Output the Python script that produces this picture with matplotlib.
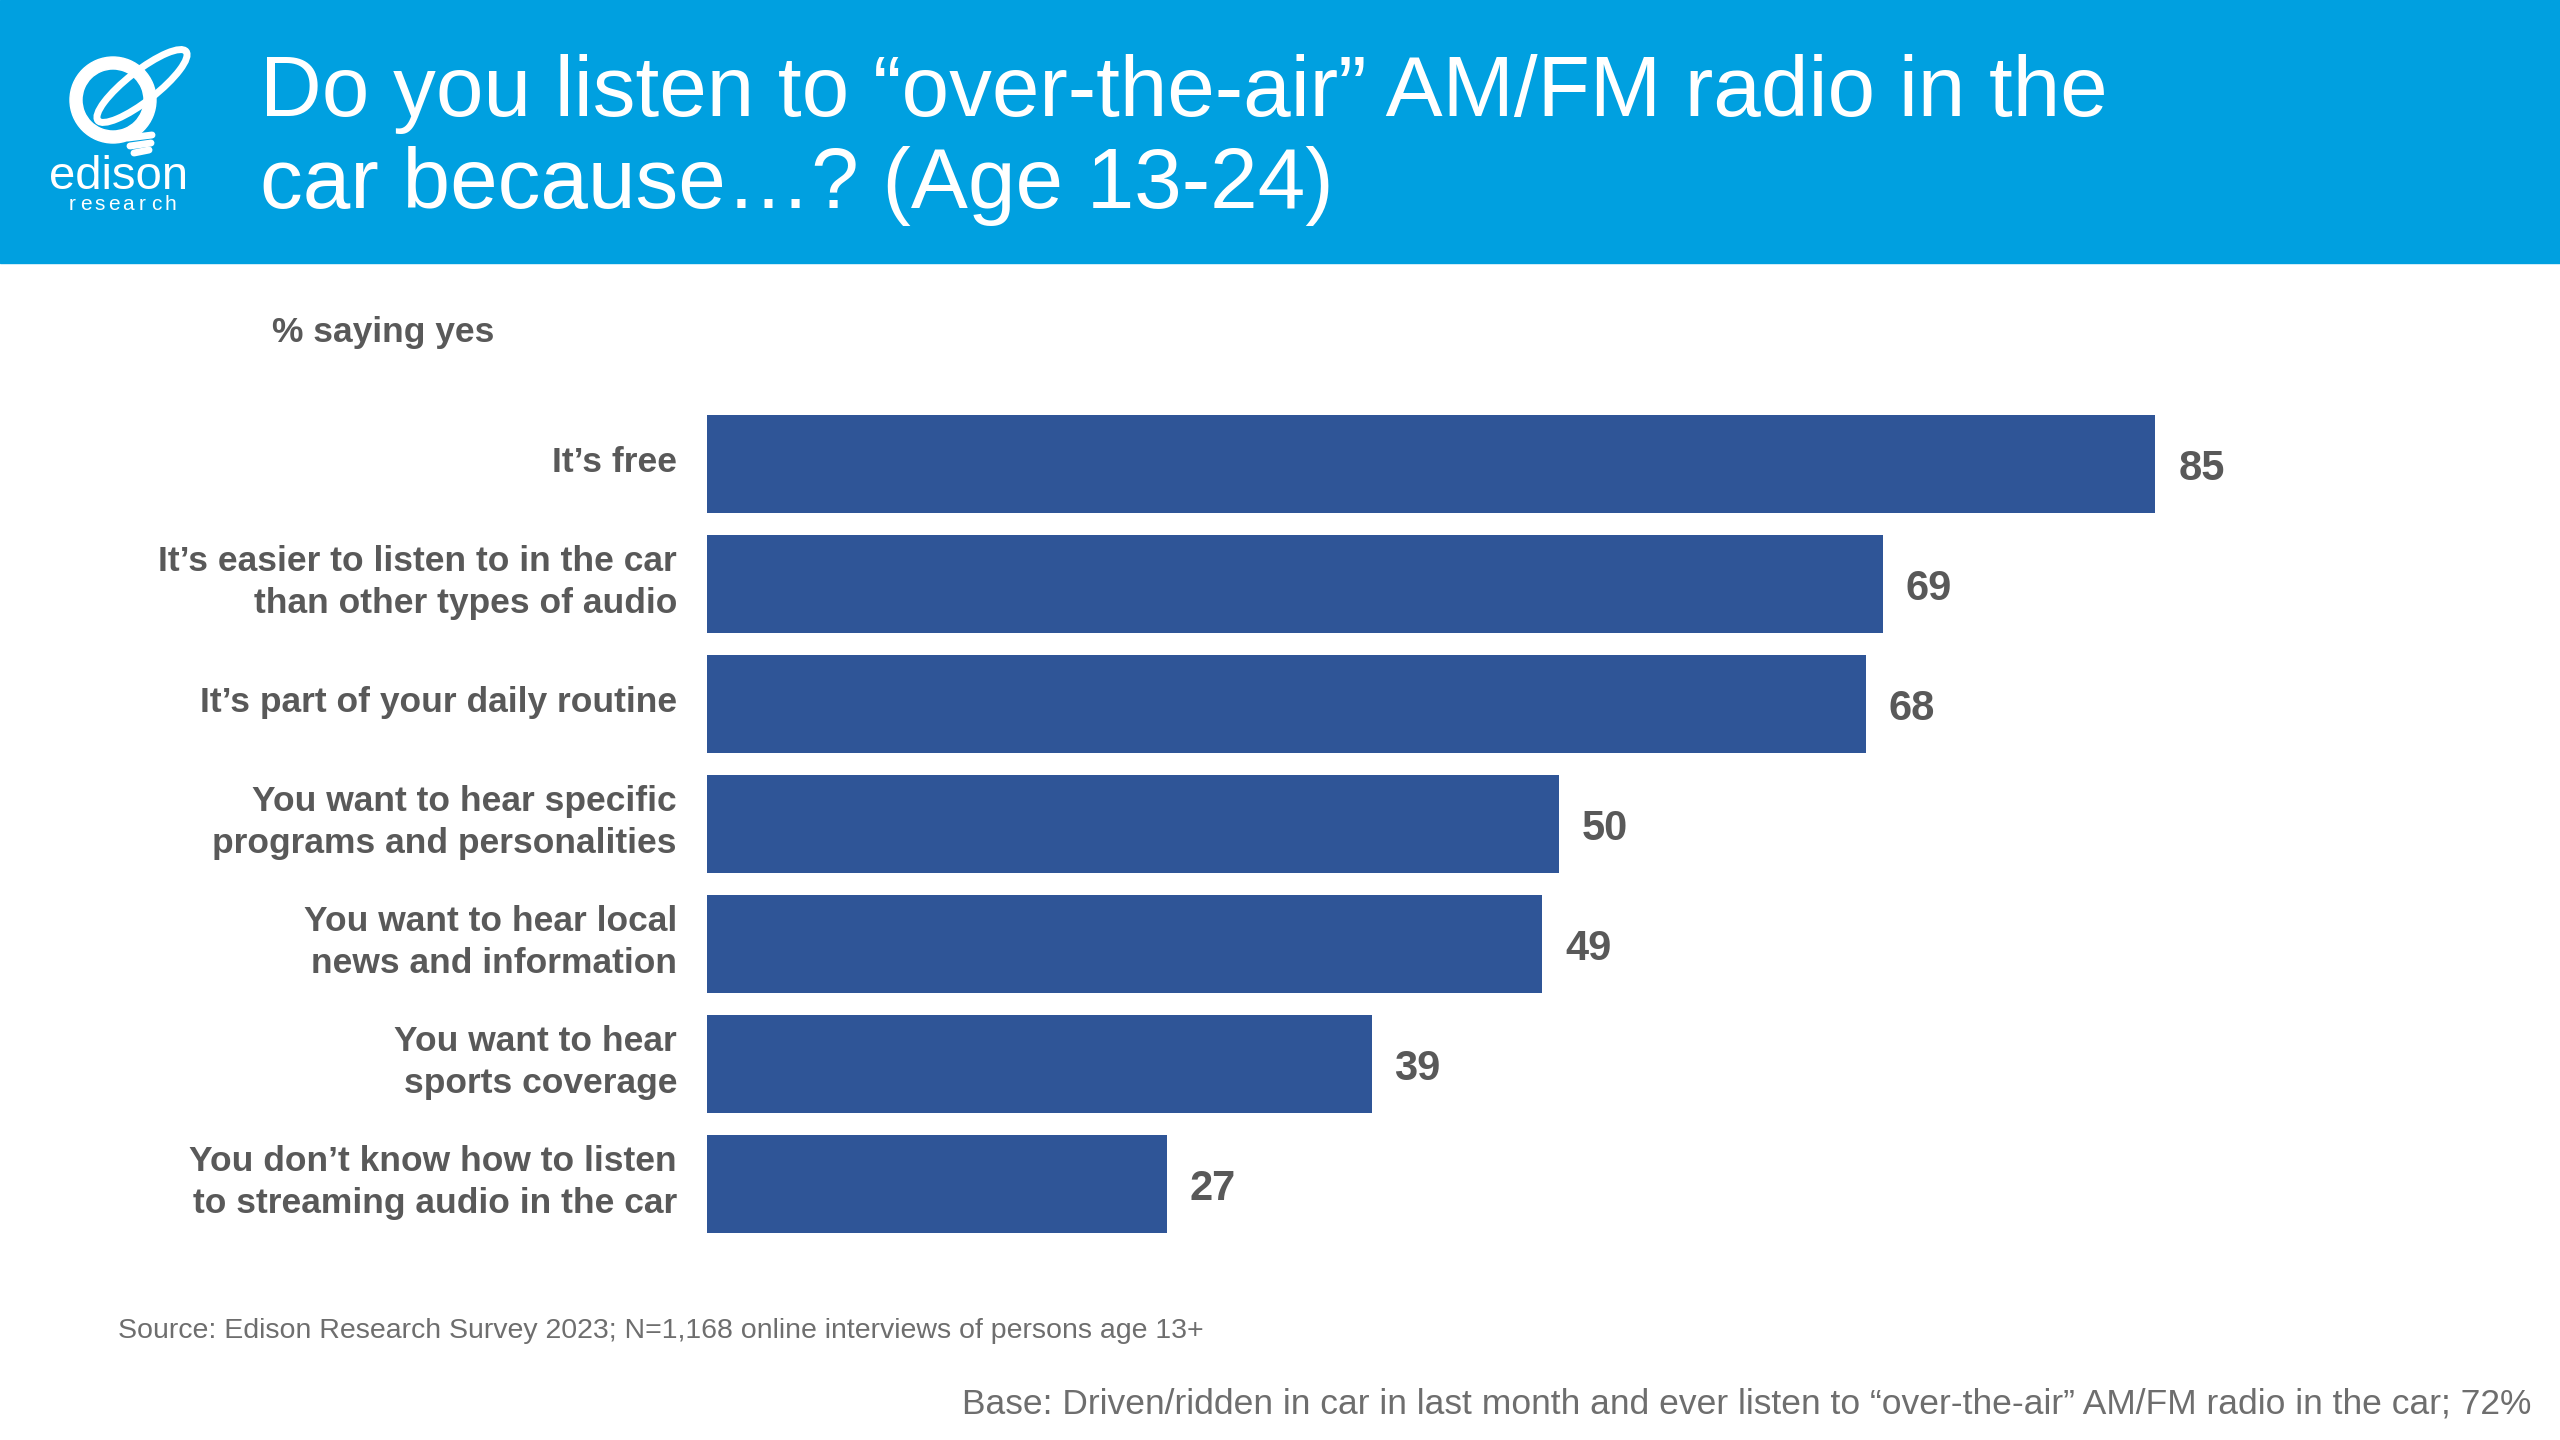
import matplotlib
matplotlib.use("Agg")
import matplotlib.pyplot as plt
from matplotlib.patches import Rectangle, Wedge, Ellipse

plt.rcParams['font.family'] = ['Liberation Sans', 'DejaVu Sans']

# data
categories = [
    "It\u2019s free",
    "It\u2019s easier to listen to in the car\nthan other types of audio",
    "It\u2019s part of your daily routine",
    "You want to hear specific\nprograms and personalities",
    "You want to hear local\nnews and information",
    "You want to hear\nsports coverage",
    "You don\u2019t know how to listen\nto streaming audio in the car",
]
values = [85, 69, 68, 50, 49, 39, 27]

title_lines = ["Do you listen to \u201cover-the-air\u201d AM/FM radio in the",
               "car because\u2026? (Age 13-24)"]
subtitle = "% saying yes"
source = "Source: Edison Research Survey 2023; N=1,168 online interviews of persons age 13+"
base = "Base: Driven/ridden in car in last month and ever listen to \u201cover-the-air\u201d AM/FM radio in the car; 72%"

header_blue = "#00A0E0"
bar_blue = "#2F5597"
gray = "#595959"
note_gray = "#6E6E6E"

W, H = 2560, 1440
fig = plt.figure(figsize=(25.6, 14.4), dpi=100)

# overlay in pixel coords for header, logo and notes
bg = fig.add_axes([0, 0, 1, 1])
bg.set_xlim(0, W)
bg.set_ylim(H, 0)
bg.axis("off")

bg.add_patch(Rectangle((0, 0), W, 263, color=header_blue, zorder=0))

# edison logo (rough)
bg.add_patch(Wedge((113, 100), 43, 0, 360, width=12, color="white"))
bg.add_patch(Ellipse((142, 86), 112, 30, angle=-38, fill=False, ec="white", lw=5))
for yy, x0, x1 in [(138, 128, 152), (146, 130, 151), (153, 134, 149)]:
    bg.plot([x0, x1], [yy, yy - 3], color="white", lw=5, solid_capstyle="round")
bg.text(119, 189, "edison", color="white", fontsize=34, ha="center", va="baseline")
letters = "research"
for k, ch in enumerate(letters):
    bg.text(72 + k * (170 - 72) / (len(letters) - 1), 210, ch, color="white",
            fontsize=15, ha="center", va="baseline")

# title
bg.text(260, 116, title_lines[0], color="white", fontsize=61.6, va="baseline")
bg.text(260, 208, title_lines[1], color="white", fontsize=61.6, va="baseline")

bg.text(272, 342, subtitle, color=gray, fontsize=25.5, fontweight="bold", va="baseline")

bg.text(118, 1338, source, color=note_gray, fontsize=20.5, va="baseline")
bg.text(2531, 1414, base, color=note_gray, fontsize=25.5, ha="right", va="baseline")

# bar chart, one category slot = 120 px
ax = fig.add_axes([707 / W, 1 - 1244 / H, 1704 / W, 840 / H])
ypos = list(range(len(values)))
ax.barh(ypos, values, height=0.82, color=bar_blue)
ax.set_xlim(0, 100)
ax.set_ylim(len(values) - 0.5, -0.5)
ax.set_xticks([])
ax.set_yticks([])
for s in ax.spines.values():
    s.set_visible(False)
ax.patch.set_alpha(0)

px = 1 / 120  # one pixel in y data units
for i, lab in enumerate(categories):
    lines = lab.split("\n")
    n = len(lines)
    for k, line in enumerate(lines):
        yb = i + (8 + (k - (n - 1) / 2) * 42) * px
        ax.annotate(line, (0, yb), xytext=(-21.6, 0), textcoords="offset points",
                    ha="right", va="baseline", fontsize=25.5, fontweight="bold",
                    color=gray, annotation_clip=False)

for i, v in enumerate(values):
    ax.annotate(str(v), (v, i + 16 * px), xytext=(16.5, 0), textcoords="offset points",
                ha="left", va="baseline", fontsize=30, fontweight="bold", color=gray)

fig.savefig("out.png", dpi=100)
